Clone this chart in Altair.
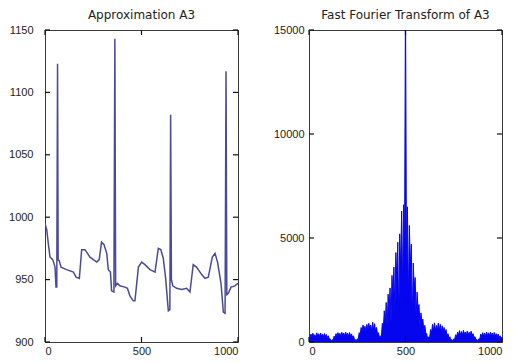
import altair as alt
import pandas as pd

# ---- Left panel: Approximation A3 ----
left_x = [0, 9, 17, 26, 40, 52, 57, 61, 65, 68, 74, 83, 112, 147, 161, 178, 190, 207, 233, 268,
          281, 293, 306, 320, 328, 339, 345, 357, 362, 366, 375, 388, 414, 427, 440, 457, 466,
          484, 501, 518, 544, 570, 587, 600, 613, 625, 639, 647, 651, 655, 662, 682, 708, 734,
          751, 768, 785, 812, 829, 846, 867, 881, 894, 912, 924, 933, 938, 942, 950, 964, 984, 1000]
left_y = [995, 990, 979, 968, 966, 960, 944, 944, 1123, 966, 965, 960, 958, 956, 952, 951, 974, 974, 968, 964,
          966, 980, 978, 971, 958, 956, 941, 940, 1143, 945, 947, 945, 944, 943, 937, 933, 933,
          960, 964, 962, 958, 956, 975, 974, 967, 951, 925, 926, 1082, 950, 945, 943, 942, 943,
          940, 962, 960, 954, 951, 952, 968, 971, 964, 947, 924, 923, 1117, 938, 939, 944, 945, 947]

fft_x = list(range(0, 1001, 5))
fft_y = [250, 200, 380, 260, 420, 280, 350, 240, 440, 300, 400, 260, 430, 290, 380, 250, 410, 270, 360, 220,
         300, 150, 150, 60, 110, 90, 280, 200, 400, 280, 450, 300, 420, 270, 470, 320, 430, 280, 480, 300,
         420, 270, 460, 290, 390, 230, 300, 150, 120, 60, 150, 120, 450, 320, 700, 480, 820, 560, 760, 500,
         850, 560, 900, 600, 820, 520, 950, 600, 880, 520, 700, 380, 450, 200, 300, 250, 900, 600, 1500, 900,
         1900, 700, 2300, 1500, 2600, 900, 3200, 2200, 3600, 1400, 4300, 3000, 4800, 900, 5200, 3500, 6300, 2500, 6600, 4000,
         17000,
         3800, 6500, 1800, 5600, 3600, 4700, 800, 3800, 2600, 3100, 1200, 2400, 1600, 1800, 700, 1400, 1000, 1100, 500, 800,
         450, 400, 120, 250, 200, 600, 420, 850, 560, 920, 560, 800, 580, 900, 560, 850, 500, 780, 520, 700,
         420, 600, 300, 400, 200, 250, 100, 120, 60, 150, 130, 350, 250, 480, 320, 550, 350, 500, 320, 560,
         380, 480, 300, 530, 340, 470, 300, 520, 320, 400, 220, 250, 120, 120, 60, 150, 140, 380, 260, 450,
         300, 420, 280, 480, 310, 440, 290, 470, 320, 430, 270, 460, 300, 400, 250, 380, 220, 300, 180, 200]

x_ticks = [0, 500, 1000]
left_y_ticks = [900, 950, 1000, 1050, 1100, 1150]
right_y_ticks = [0, 5000, 10000, 15000]

W, H = 193, 312
FRAME = "#3a3a3a"
LABEL = dict(labelFont="Liberation Sans", labelFontSize=11, labelColor="#222",
             grid=False, domain=False, ticks=False, title=None, format="d")


def panel(df, ydomain, yticks, title, color, sw, label_pad, fill=False):
    xs = alt.Scale(domain=[0, 1000], nice=False, zero=False)
    ys = alt.Scale(domain=ydomain, nice=False, zero=False)
    xax = alt.Axis(values=x_ticks, labelPadding=3, **LABEL)
    yax = alt.Axis(values=yticks, labelPadding=label_pad, **LABEL)
    enc = dict(x=alt.X("x:Q", scale=xs, axis=xax), y=alt.Y("y:Q", scale=ys, axis=yax))
    layers = []
    if fill:
        layers.append(alt.Chart(df).mark_area(color=color, opacity=1, clip=True).encode(**enc))
    layers.append(alt.Chart(df).mark_line(color=color, strokeWidth=sw, clip=True).encode(**enc))
    yt = pd.DataFrame({"y": yticks})
    xt = pd.DataFrame({"x": x_ticks})
    ty = alt.Y("y:Q", scale=ys, axis=yax)
    tx = alt.X("x:Q", scale=xs, axis=xax)
    rule = dict(color="#111", strokeWidth=1.2)
    layers += [
        alt.Chart(yt).mark_rule(**rule).encode(y=ty, x=alt.value(0), x2=alt.value(5)),
        alt.Chart(yt).mark_rule(**rule).encode(y=ty, x=alt.value(W - 5), x2=alt.value(W)),
        alt.Chart(xt).mark_rule(**rule).encode(x=tx, y=alt.value(H - 5), y2=alt.value(H)),
        alt.Chart(xt).mark_rule(**rule).encode(x=tx, y=alt.value(0), y2=alt.value(5)),
    ]
    return alt.layer(*layers).properties(
        width=W, height=H,
        title=alt.TitleParams(title, font="DejaVu Sans", fontSize=12, fontWeight="normal",
                              color="#222", offset=2, anchor="middle"),
    )


left_df = pd.DataFrame({"x": left_x, "y": left_y})
right_df = pd.DataFrame({"x": fft_x, "y": fft_y})

left = panel(left_df, [900, 1150], left_y_ticks, "Approximation A3", "#4a4a9c", 1.5, 12)
right = panel(right_df, [0, 15000], right_y_ticks, "Fast Fourier Transform of A3", "#0505ee", 1.0, 5, fill=True)

chart = alt.hconcat(left, right, spacing=32).properties(padding=0, background="white").configure_view(
    stroke=FRAME, strokeWidth=1
)

chart.save("out.html", embed_options={"renderer": "svg", "actions": False})
